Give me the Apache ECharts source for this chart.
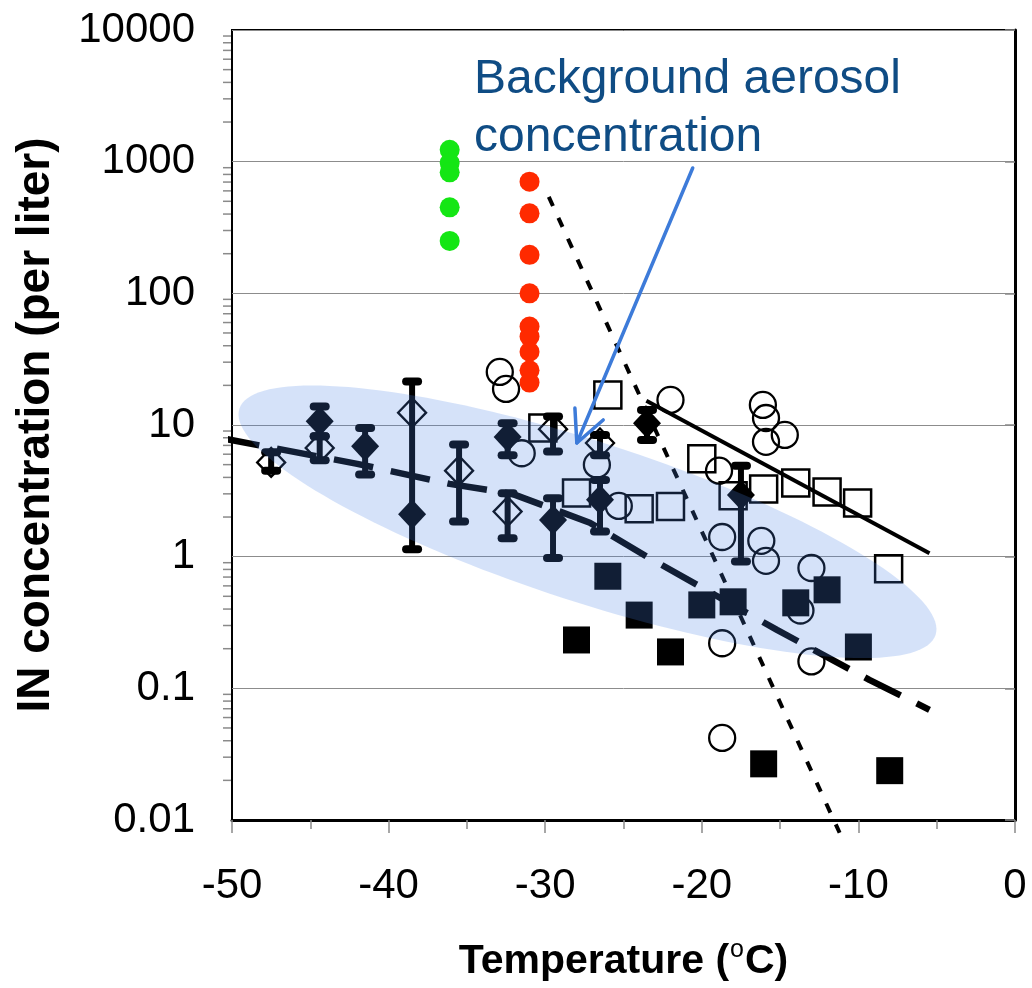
<!DOCTYPE html>
<html><head><meta charset="utf-8">
<script src="https://cdn.jsdelivr.net/npm/echarts@6/dist/echarts.min.js"></script>
<style>html,body{margin:0;padding:0;background:#fff}#c{width:1032px;height:988px}</style>
</head><body><div id="c"></div>
<script>
// ---------- data ----------
const yTickLabels = ['0.01', '0.1', '1', '10', '100', '1000', '10000'];
const yMinorTicks = [0.02,0.03,0.04,0.05,0.06,0.07,0.08,0.09,0.2,0.3,0.4,0.5,0.6,0.7,0.8,0.9,2,3,4,5,6,7,8,9,20,30,40,50,60,70,80,90,200,300,400,500,600,700,800,900,2000,3000,4000,5000,6000,7000,8000,9000];

const greenDots = [[-36.1,1230],[-36.1,980],[-36.1,830],[-36.1,450],[-36.1,250]];
const redDots = [[-31,705],[-31,405],[-31,196],[-31,100],[-31,56],[-31,47],[-31,36],[-31,26],[-31,21]];
const openCircles = [[-32.9,25.3],[-32.5,18.8],[-31.5,6.1],[-26.7,5.0],[-25.3,2.43],[-22.0,15.5],[-18.9,4.5],[-18.7,1.41],[-16.1,14.2],[-15.9,11.3],[-15.9,7.45],[-14.7,8.4],[-16.2,1.32],[-15.9,0.93],[-13.0,0.82],[-13.7,0.39],[-18.7,0.22],[-13.0,0.16],[-18.7,0.042]];
const openSquares = [[-30.15,9.5],[-26.0,16.9],[-28.0,3.05],[-24.0,2.31],[-22.0,2.40],[-20.0,5.53],[-18.0,2.90],[-16.05,3.27],[-14.0,3.63],[-12.0,3.10],[-10.05,2.56],[-8.07,0.81]];
const filledSquares = [[-26.0,0.71],[-24.0,0.36],[-28.0,0.233],[-22.0,0.189],[-20.0,0.43],[-18.0,0.454],[-14.0,0.446],[-12.0,0.56],[-10.0,0.206],[-16.05,0.0267],[-8.0,0.0237]];

const fdT  = [-44.4, -41.5, -38.5, -32.4, -29.5, -26.5, -23.5, -17.5];
const fdV  = [10.7, 6.9, 2.1, 8.1, 1.9, 2.7, 10.3, 2.94];
const fdLo = [8.2, 4.2, 1.14, 5.9, 0.975, 1.55, 7.7, 0.92];
const fdHi = [13.8, 9.5, 21.4, 10.3, 2.78, 3.83, 13.0, 4.9];

const odT  = [-47.5, -44.4, -38.5, -35.5, -32.4, -29.5, -26.5];
const odV  = [5.2, 6.7, 12.4, 4.5, 2.2, 9.3, 7.3];
const odLo = [4.5, 5.4, null, 1.85, 1.38, 6.3, 5.9];
const odHi = [6.2, 8.2, null, 7.1, 3.03, 11.6, 8.4];

const fitLongDash = [[-50.77,7.98],[-42.0,5.07],[-36.1,3.57],[-32.1,3.0],[-27.15,1.81],[-23.5,1.0],[-15.2,0.278],[-9.3,0.116],[-5.46,0.0687]];
const fitDotted = [[-29.77,540],[-11.2,0.008]];
const fitSolid = [[-23.54,15.3],[-5.46,1.06]];

const arrowFrom = [-20.58, 896];
const arrowTo = [-27.98, 7.3];
const haloCenter = [-27.3, 1.84];
const annotationText = 'Background aerosol\nconcentration';

// ---------- chart ----------
const FONT = 'Liberation Sans, Arial, Helvetica, sans-serif';
const HALO = {rx: 366, ry: 80, angle: 18};

const fdPts = fdT.map((t, i) => [t, fdV[i]]);
const odPts = odT.map((t, i) => [t, odV[i]]);
const errBars = fdT.map((t, i) => [t, fdLo[i], fdHi[i]])
  .concat(odT.map((t, i) => [t, odLo[i], odHi[i]]).filter(d => d[1] != null));

const chart = echarts.init(document.getElementById('c'));
chart.setOption({
  animation: false,
  backgroundColor: '#fff',
  title: {
    text: annotationText, left: 474, top: 51, padding: 0,
    textStyle: {fontFamily: FONT, fontSize: 48, fontWeight: 'normal', color: '#0f4c84', lineHeight: 58}
  },
  grid: {left: 232, right: 17, top: 30, bottom: 168, show: true, borderColor: '#000', borderWidth: 2,
    containLabel: false, outerBoundsMode: 'none'},
  xAxis: {
    type: 'value', min: -50, max: 0, interval: 10,
    axisLine: {onZero: false, lineStyle: {color: '#000', width: 3}},
    axisTick: {length: 13, lineStyle: {color: '#8a8a8a', width: 1.5}},
    minorTick: {show: true, splitNumber: 2, length: 9, lineStyle: {color: '#8a8a8a', width: 1.5}},
    splitLine: {show: false},
    axisLabel: {fontFamily: FONT, fontSize: 42, color: '#000', margin: 45},
    name: 'Temperature ({sup|o}C)', nameLocation: 'middle', nameGap: 118,
    nameTextStyle: {fontFamily: FONT, fontSize: 41, lineHeight: 48, fontWeight: 'bold', color: '#000',
      rich: {sup: {fontFamily: FONT, fontSize: 25, lineHeight: 25, fontWeight: 'normal', color: '#000',
        verticalAlign: 'top', padding: [0, 1, 0, 1]}}}
  },
  yAxis: {
    type: 'log', logBase: 10, min: 0.01, max: 10000, splitNumber: 6,
    axisLine: {lineStyle: {color: '#000', width: 3}},
    axisTick: {length: 10, lineStyle: {color: '#8a8a8a', width: 1.5}},
    splitLine: {show: true, lineStyle: {color: '#8c8c8c', width: 1}},
    axisLabel: {fontFamily: FONT, fontSize: 42, color: '#000', margin: 37,
      formatter: v => yTickLabels[Math.round(Math.log10(v)) + 2]},
    name: 'IN concentration (per liter)', nameLocation: 'middle', nameGap: 173,
    nameTextStyle: {fontFamily: FONT, fontSize: 46, fontWeight: 'bold', color: '#000'}
  },
  series: [
    { // log minor ticks on the y axis
      type: 'custom', z: 1, silent: true,
      data: yMinorTicks.map(v => [-50, v]),
      renderItem: (p, api) => {
        const c = api.coord([api.value(0), api.value(1)]);
        return {type: 'line', shape: {x1: c[0] - 9, y1: c[1], x2: c[0] - 1, y2: c[1]}, style: {stroke: '#8a8a8a', lineWidth: 1.5}};
      }
    },
    {type: 'line', data: fitLongDash, z: 3, clip: false, symbol: 'none', silent: true,
      lineStyle: {color: '#000', width: 6.5, type: [40, 18]}},
    {type: 'line', data: fitDotted, z: 3, clip: false, symbol: 'none', silent: true,
      lineStyle: {color: '#000', width: 4, type: [10, 13]}},
    {type: 'line', data: fitSolid, z: 3, clip: false, symbol: 'none', silent: true,
      lineStyle: {color: '#000', width: 4}},
    { // error bars
      type: 'custom', z: 3, silent: true, data: errBars,
      renderItem: (p, api) => {
        const x = api.value(0);
        const a = api.coord([x, api.value(2)]), b = api.coord([x, api.value(1)]);
        const cap = (pt) => ({type: 'line', shape: {x1: pt[0] - 6, y1: pt[1], x2: pt[0] + 6, y2: pt[1]},
          style: {stroke: '#000', lineWidth: 8, lineCap: 'round'}});
        return {type: 'group', children: [
          {type: 'line', shape: {x1: a[0], y1: a[1], x2: b[0], y2: b[1]}, style: {stroke: '#000', lineWidth: 6}},
          cap(a), cap(b)
        ]};
      }
    },
    {type: 'scatter', data: openCircles, z: 4, symbol: 'circle', symbolSize: 26,
      itemStyle: {color: 'rgba(0,0,0,0)', borderColor: '#000', borderWidth: 2.3, opacity: 1}},
    {type: 'scatter', data: openSquares, z: 4, symbol: 'rect', symbolSize: 27,
      itemStyle: {color: 'rgba(0,0,0,0)', borderColor: '#000', borderWidth: 2.5, opacity: 1}},
    {type: 'scatter', data: filledSquares, z: 4, symbol: 'rect', symbolSize: 27,
      itemStyle: {color: '#000', opacity: 1}},
    {type: 'scatter', data: odPts, z: 4, symbol: 'diamond', symbolSize: [28, 29],
      itemStyle: {color: 'rgba(0,0,0,0)', borderColor: '#000', borderWidth: 2.3, opacity: 1}},
    {type: 'scatter', data: fdPts, z: 4, symbol: 'diamond', symbolSize: [28, 30],
      itemStyle: {color: '#000', opacity: 1}},
    {type: 'scatter', data: greenDots, z: 4, symbol: 'circle', symbolSize: 20,
      itemStyle: {color: '#14e614', opacity: 1}},
    {type: 'scatter', data: redDots, z: 4, symbol: 'circle', symbolSize: 20,
      itemStyle: {color: '#ff2a00', opacity: 1}},
    { // translucent halo
      type: 'custom', z: 10, silent: true, data: [haloCenter],
      renderItem: (p, api) => {
        const c = api.coord([api.value(0), api.value(1)]);
        const th = HALO.angle * Math.PI / 180, pts = [];
        for (let i = 0; i < 160; i++) {
          const t = i / 160 * 2 * Math.PI;
          const ex = HALO.rx * Math.cos(t), ey = HALO.ry * Math.sin(t);
          pts.push([c[0] + ex * Math.cos(th) - ey * Math.sin(th), c[1] + ex * Math.sin(th) + ey * Math.cos(th)]);
        }
        return {type: 'polygon', shape: {points: pts}, style: {fill: 'rgba(74,130,230,0.23)'}};
      }
    },
    { // arrow
      type: 'custom', z: 11, silent: true, data: [[arrowFrom[0], arrowFrom[1], arrowTo[0], arrowTo[1]]],
      renderItem: (p, api) => {
        const s = api.coord([api.value(0), api.value(1)]);
        const e = api.coord([api.value(2), api.value(3)]);
        const ang = Math.atan2(s[1] - e[1], s[0] - e[0]);
        const L = 35, w = 26 * Math.PI / 180;
        const w1 = [e[0] + L * Math.cos(ang - w), e[1] + L * Math.sin(ang - w)];
        const w2 = [e[0] + L * Math.cos(ang + w), e[1] + L * Math.sin(ang + w)];
        const st = {stroke: '#3d7bd9', lineWidth: 3.5, fill: null, lineCap: 'round', lineJoin: 'round'};
        return {type: 'group', children: [
          {type: 'line', shape: {x1: s[0], y1: s[1], x2: e[0], y2: e[1]}, style: st},
          {type: 'polyline', shape: {points: [w1, e, w2]}, style: st}
        ]};
      }
    }
  ]
});
</script></body></html>
